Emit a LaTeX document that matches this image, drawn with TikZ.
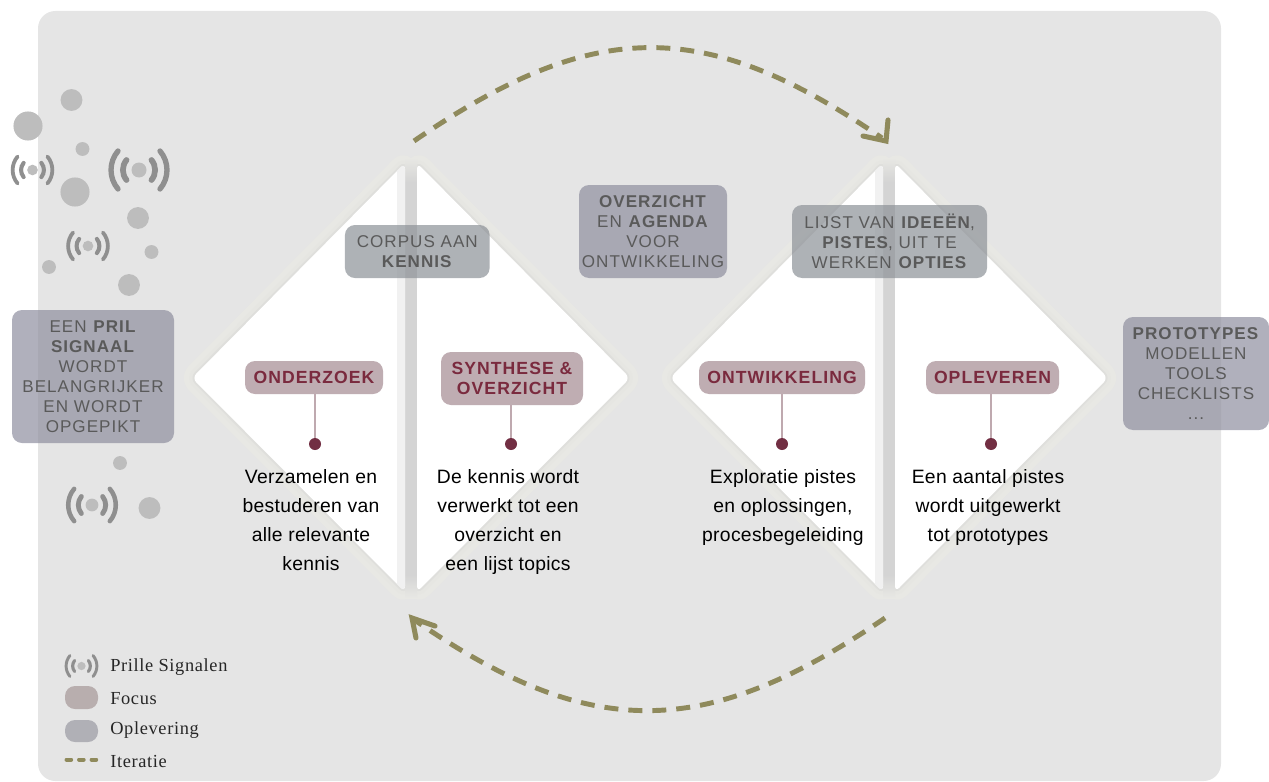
\documentclass[tikz,border=0pt]{standalone}
\usepackage{fontspec}
\setmainfont{Liberation Sans}
\newfontfamily\legendfont[LetterSpace=3.5]{Liberation Serif}
\newfontfamily\labelfont[LetterSpace=6]{Liberation Sans}
\newfontfamily\bodyfont[LetterSpace=1.5]{Liberation Sans}
\definecolor{bggray}{HTML}{E5E5E5}
\definecolor{haloA}{HTML}{E8E8E4}
\definecolor{haloB}{HTML}{E6E6E2}
\definecolor{haloC}{HTML}{DFDFDC}
\definecolor{stripdark}{HTML}{D4D4D4}
\definecolor{striplight}{HTML}{F1F1F1}
\definecolor{dotgray}{HTML}{BDBDBD}
\definecolor{icongray}{HTML}{8F8F8F}
\definecolor{focusfill}{HTML}{BFADB2}
\definecolor{focustext}{HTML}{7A2A3E}
\definecolor{focusline}{HTML}{BFA9AF}
\definecolor{pindot}{HTML}{722F43}
\definecolor{delA}{HTML}{8F8F9F}
\definecolor{delB}{HTML}{8D9298}
\definecolor{deltext}{HTML}{5A5A5A}
\definecolor{iter}{HTML}{8F8A5C}
\definecolor{legfocus}{HTML}{B8AEAE}
\definecolor{legdel}{HTML}{B0B0B6}
\tikzset{
  x=.75pt,y=-.75pt,
  halfshape/.style={fill=white,rounded corners=4.5pt},
  haloa/.style={draw=haloA,line width=16pt,rounded corners=4.5pt,line join=round},
  halob/.style={draw=haloB,line width=8pt,rounded corners=4.5pt,line join=round},
  haloc/.style={draw=haloC,line width=3pt,rounded corners=4.5pt,line join=round},
  focusbox/.style={fill=focusfill,rounded corners=7.5pt,inner sep=0pt,align=center,text=focustext,
    font=\labelfont\fontsize{13.2pt}{15.2pt}\selectfont\bfseries},
  delbox/.style={fill=#1,fill opacity=.7,text opacity=1,rounded corners=7.5pt,inner sep=0pt,align=center,
    text=deltext,font=\labelfont\fontsize{12.8pt}{15pt}\selectfont},
  pin/.style={circle,fill=pindot,minimum size=9pt,inner sep=0pt},
  stem/.style={draw=focusline,line width=.9pt},
  bodytext/.style={align=center,inner sep=0pt,font=\bodyfont\fontsize{14.5pt}{21.75pt}\selectfont},
  iterline/.style={draw=iter,line width=3.7pt,dash pattern=on 10.5pt off 7.5pt},
  iterhead/.style={draw=iter,line width=3.8pt,line join=miter,line cap=round},
  legendtext/.style={anchor=west,inner sep=0pt,text=black!85,font=\legendfont\fontsize{13.8pt}{15pt}\selectfont},
}
\newcommand{\signalicon}[3]{%
  \begin{scope}[shift={(#1,#2)},scale=#3]
    \fill[dotgray] (0,0) circle (7.5);
    \draw[icongray,line width=4pt*#3,line cap=round]
      (-21,-19) .. controls (-30.3,-8) and (-30.3,8) .. (-21,19)
      (21,-19) .. controls (30.3,-8) and (30.3,8) .. (21,19);
    \draw[icongray,line width=4.3pt*#3,line cap=round]
      (-12.5,-10) .. controls (-17.3,-4) and (-17.3,4) .. (-12.5,10)
      (12.5,-10) .. controls (17.3,-4) and (17.3,4) .. (12.5,10);
  \end{scope}}
\newcommand{\halves}[1]{%
  \begin{scope}[xshift=#1*.75pt]
    \path[haloa] (192,378) -- (405,163) -- (405,592) -- cycle;
    \path[haloa] (417,163) -- (630,378) -- (417,592) -- cycle;
    \path[halob] (192,378) -- (405,163) -- (405,592) -- cycle;
    \path[halob] (417,163) -- (630,378) -- (417,592) -- cycle;
    \path[haloc] (192,378) -- (405,163) -- (405,592) -- cycle;
    \path[haloc] (417,163) -- (630,378) -- (417,592) -- cycle;
    \fill[top color=haloA,bottom color=stripdark] (405,158) rectangle (417,182);
    \fill[stripdark] (405,182) rectangle (417,575);
    \fill[bottom color=haloA,top color=stripdark] (405,575) rectangle (417,598);
    \path[halfshape] (192,378) -- (405,163) -- (405,592) -- cycle;
    \path[halfshape] (417,163) -- (630,378) -- (417,592) -- cycle;
    \begin{scope}
      \clip[rounded corners=4.5pt] (192,378) -- (405,163) -- (405,592) -- cycle;
      \fill[striplight] (397,160) rectangle (405,595);
    \end{scope}
  \end{scope}}
\begin{document}
\begin{tikzpicture}
\useasboundingbox (0,0) rectangle (1269,781);
\fill[bggray,rounded corners=13pt] (38,11) rectangle (1221,781);
% blobs
\foreach \cx/\cy/\rr in {71.5/100/8.2,28/126/10.9,82.5/149/5.2,75/192/10.9,138/218/8.2,151.5/252/5.2,49/267/5.2,129/285/8.2,120/463/5.2,149.5/508/8.2}
  \fill[dotgray] (\cx,\cy) circle (\rr pt);
\signalicon{32.5}{170}{.71}
\signalicon{139}{170}{1}
\signalicon{88}{246}{.71}
\signalicon{92}{505}{.85}
% diamonds
\halves{0}
\halves{478}
% iteration arcs
\coordinate (ta) at (414,141);
\coordinate (tb) at (882,138);
\coordinate (tarm1) at (863,136);
\coordinate (ttip) at (886,141);
\coordinate (tarm2) at (888,120);
\coordinate (ba) at (885,618);
\coordinate (bb) at (416,621);
\coordinate (barm1) at (435,626);
\coordinate (btip) at (412,618);
\coordinate (barm2) at (416,638);
\draw[iterline] (ta) .. controls (595,17) and (705,17) .. (tb);
\draw[iterhead] (tarm1) -- (ttip) -- (tarm2);
\draw[iterline] (ba) .. controls (705,741) and (590,741) .. (bb);
\draw[iterhead] (barm1) -- (btip) -- (barm2);
% deliverables
\node[delbox=delA,minimum width=121.5pt,minimum height=99.75pt] (pril) at (93,376.5)
  {EEN \textbf{PRIL}\\\textbf{SIGNAAL}\\WORDT\\BELANGRIJKER\\EN WORDT\\OPGEPIKT};
\node[delbox=delB,minimum width=108.5pt,minimum height=39.75pt] (corpus) at (417.3,251.5)
  {CORPUS AAN\\\textbf{KENNIS}};
\node[delbox=delA,minimum width=111pt,minimum height=69.75pt] (overzicht) at (653,231.5)
  {\textbf{OVERZICHT}\\EN \textbf{AGENDA}\\VOOR\\ONTWIKKELING};
\node[delbox=delB,minimum width=146.25pt,minimum height=54.75pt] (lijst) at (889.5,241.5)
  {LIJST VAN \textbf{IDEEËN},\\\textbf{PISTES}, UIT TE\\WERKEN \textbf{OPTIES}};
\node[delbox=delA,minimum width=109.5pt,minimum height=84.75pt] (proto) at (1196,373.5)
  {\textbf{PROTOTYPES}\\MODELLEN\\TOOLS\\CHECKLISTS\\...};
% focus boxes
\node[focusbox,minimum width=103.5pt,minimum height=24.75pt] (f1) at (314,377.5) {ONDERZOEK};
\node[focusbox,minimum width=106.5pt,minimum height=39.75pt] (f2) at (512,378.5) {SYNTHESE \&\\OVERZICHT};
\node[focusbox,minimum width=124.5pt,minimum height=24.75pt] (f3) at (782,377.5) {ONTWIKKELING};
\node[focusbox,minimum width=99.75pt,minimum height=24.75pt] (f4) at (992.5,377.5) {OPLEVEREN};
\node[pin] (p1) at (315,444) {};
\node[pin] (p2) at (511,444) {};
\node[pin] (p3) at (782,444) {};
\node[pin] (p4) at (991,444) {};
\draw[stem] (f1.south -| p1) -- (p1);
\draw[stem] (f2.south -| p2) -- (p2);
\draw[stem] (f3.south -| p3) -- (p3);
\draw[stem] (f4.south -| p4) -- (p4);
% body text
\node[bodytext,anchor=north] (t1) at (311,469) {Verzamelen en\\bestuderen van\\alle relevante\\kennis};
\node[bodytext,anchor=north] (t2) at (508,469) {De kennis wordt\\verwerkt tot een\\overzicht en\\een lijst topics};
\node[bodytext,anchor=north] (t3) at (783,469) {Exploratie pistes\\en oplossingen,\\procesbegeleiding};
\node[bodytext,anchor=north] (t4) at (988,469) {Een aantal pistes\\wordt uitgewerkt\\tot prototypes};
% legend
\signalicon{81.5}{666}{.55}
\node[legendtext] (l1) at (110,667) {Prille Signalen};
\fill[legfocus,rounded corners=7.5pt] (65,686) rectangle (98,709);
\node[legendtext] (l2) at (110,699) {Focus};
\fill[legdel,rounded corners=7.5pt] (65,720) rectangle (98,742);
\node[legendtext] (l3) at (110,730) {Oplevering};
\draw[draw=iter,line width=3pt,line cap=round,dash pattern=on 3.5pt off 5.9pt] (66.5,759.5) -- (97,759.5);
\node[legendtext] (l4) at (110,761) {Iteratie};
\end{tikzpicture}
\end{document}
